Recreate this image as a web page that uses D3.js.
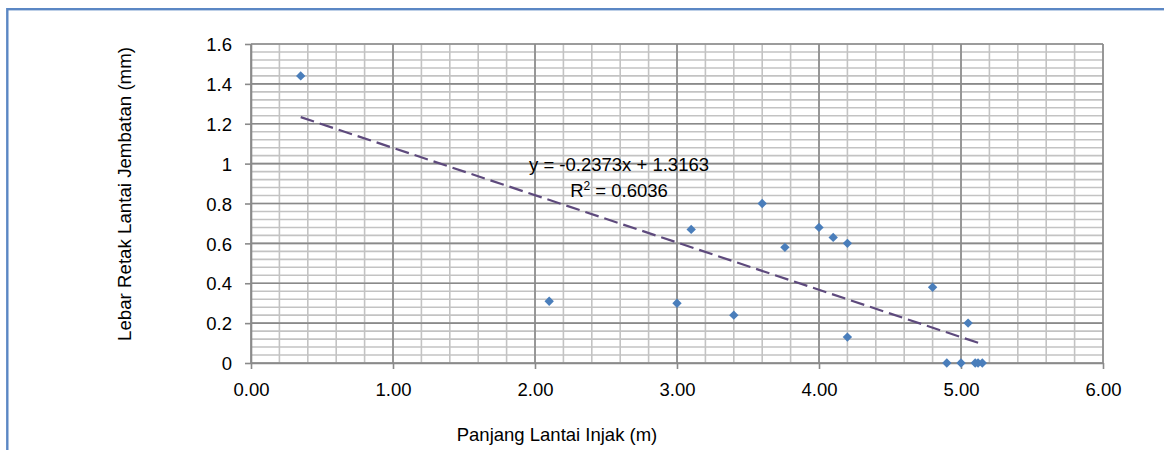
<!DOCTYPE html>
<html>
<head>
<meta charset="utf-8">
<script src="https://cdn.jsdelivr.net/npm/d3@7"></script>
<style>
  body { margin: 0; background: #fff; }
  text { font-family: "Liberation Sans", Arial, sans-serif; fill: #000; }
</style>
</head>
<body>
<script>
// data
const panjang = [0.35, 2.1, 3.0, 3.1, 3.4, 3.6, 3.76, 4.0, 4.1, 4.2, 4.2, 4.8, 5.05, 4.9, 5.0, 5.1, 5.12, 5.15];
const lebar   = [1.44, 0.31, 0.30, 0.67, 0.24, 0.80, 0.58, 0.68, 0.63, 0.60, 0.13, 0.38, 0.20, 0, 0, 0, 0, 0];

const xTicks = [0, 1, 2, 3, 4, 5, 6];
const yTicks = [0, 0.2, 0.4, 0.6, 0.8, 1, 1.2, 1.4, 1.6];

// linear trend shown on the chart
const slope = -0.2373, intercept = 1.3163;
const eqText = "y = -0.2373x + 1.3163";
const r2Text = "0.6036";

const canvWidth = 1164, canvHeight = 450;

const svg = d3.select("body").append("svg")
    .attr("width", canvWidth)
    .attr("height", canvHeight);

// outer chart border (runs off the right / bottom of the picture)
svg.append("rect")
    .attr("x", 7.3)
    .attr("y", 9.2)
    .attr("width", 1200)
    .attr("height", 500)
    .attr("fill", "none")
    .attr("stroke", "#5b87c4")
    .attr("stroke-width", 2.4);

const margin = {top: 44, right: 61, bottom: 87, left: 251};
const width = canvWidth - margin.left - margin.right;
const height = canvHeight - margin.top - margin.bottom;

const g = svg.append("g")
    .attr("transform", "translate(" + margin.left + "," + margin.top + ")");

const xScale = d3.scaleLinear().domain([0, 6]).range([0, width]);
const yScale = d3.scaleLinear().domain([0, 1.6]).range([height, 0]);

// minor grid
const xMinor = d3.range(0, 31).map(i => i * 0.2);
const yMinor = d3.range(0, 41).map(i => i * 0.04);

g.append("g").selectAll("line")
    .data(yMinor)
    .enter().append("line")
    .attr("x1", 0).attr("x2", width)
    .attr("y1", d => yScale(d)).attr("y2", d => yScale(d))
    .attr("stroke", "#c3c3c3").attr("stroke-width", 1.6);

g.append("g").selectAll("line")
    .data(xMinor)
    .enter().append("line")
    .attr("y1", 0).attr("y2", height)
    .attr("x1", d => xScale(d)).attr("x2", d => xScale(d))
    .attr("stroke", "#c3c3c3").attr("stroke-width", 1.6);

// major grid
g.append("g").selectAll("line")
    .data(yTicks)
    .enter().append("line")
    .attr("x1", 0).attr("x2", width)
    .attr("y1", d => yScale(d)).attr("y2", d => yScale(d))
    .attr("stroke", "#8a8a8a").attr("stroke-width", 1.6);

g.append("g").selectAll("line")
    .data(xTicks)
    .enter().append("line")
    .attr("y1", 0).attr("y2", height)
    .attr("x1", d => xScale(d)).attr("x2", d => xScale(d))
    .attr("stroke", "#8a8a8a").attr("stroke-width", 1.6);

// axes
const xAxis = d3.axisBottom(xScale)
    .tickValues(xTicks)
    .tickFormat(d3.format(".2f"))
    .tickSize(6)
    .tickSizeOuter(0)
    .tickPadding(14);
const gx = g.append("g")
    .attr("transform", "translate(0," + height + ")")
    .call(xAxis);

const yAxis = d3.axisLeft(yScale)
    .tickValues(yTicks)
    .tickFormat(d3.format("~g"))
    .tickSize(6)
    .tickSizeOuter(0)
    .tickPadding(13);
const gy = g.append("g").call(yAxis);

[gx, gy].forEach(a => {
    a.select(".domain").attr("stroke", "#8a8a8a").attr("stroke-width", 1.6);
    a.selectAll(".tick line").attr("stroke", "#8a8a8a").attr("stroke-width", 1.6);
    a.selectAll(".tick text")
        .attr("font-family", "Liberation Sans, Arial, sans-serif")
        .attr("font-size", "18.5px")
        .attr("fill", "#000");
});
gy.selectAll(".tick text").attr("dy", "0.36em");

// trend line
const trendX = [d3.min(panjang), d3.max(panjang)];
g.append("line")
    .attr("x1", xScale(trendX[0]))
    .attr("y1", yScale(slope * trendX[0] + intercept))
    .attr("x2", xScale(trendX[1]))
    .attr("y2", yScale(slope * trendX[1] + intercept))
    .attr("stroke", "#5e4a7d")
    .attr("stroke-width", 2.2)
    .attr("stroke-dasharray", "14,6");

// points
const pts = panjang.map((x, i) => ({x: x, y: lebar[i]}));
g.append("g").selectAll("path")
    .data(pts)
    .enter().append("path")
    .attr("d", d3.symbol(d3.symbolSquare, 44))
    .attr("transform", d => "translate(" + xScale(d.x) + "," + yScale(d.y) + ") rotate(45)")
    .attr("fill", "#4a7ebb");

// equation label
const eq = g.append("text")
    .attr("x", 619 - margin.left)
    .attr("y", 171 - margin.top)
    .attr("font-size", "18.5px")
    .style("text-anchor", "middle")
    .text(eqText);

const r2 = g.append("text")
    .attr("x", 619 - margin.left)
    .attr("y", 197 - margin.top)
    .attr("font-size", "18.5px")
    .style("text-anchor", "middle");
r2.append("tspan").text("R");
r2.append("tspan").attr("font-size", "12px").attr("dy", "-7").text("2");
r2.append("tspan").attr("dy", "7").text(" = " + r2Text);

// axis titles
svg.append("text")
    .attr("x", 557)
    .attr("y", 441)
    .attr("font-size", "18.5px")
    .style("text-anchor", "middle")
    .text("Panjang Lantai Injak (m)");

svg.append("text")
    .attr("transform", "rotate(-90)")
    .attr("x", -194)
    .attr("y", 131)
    .attr("font-size", "18.7px")
    .style("text-anchor", "middle")
    .text("Lebar Retak Lantai Jembatan (mm)");
</script>
</body>
</html>
